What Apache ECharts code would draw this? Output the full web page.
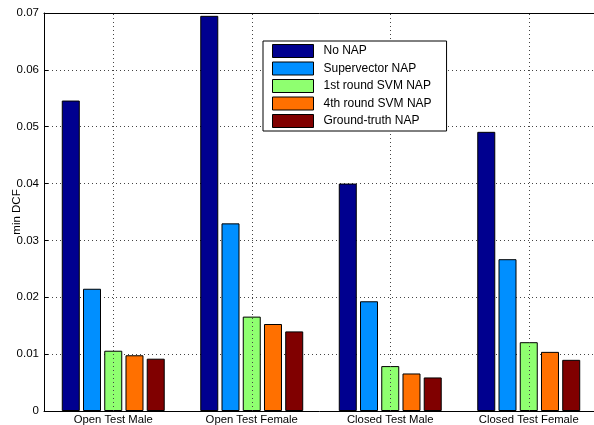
<!DOCTYPE html>
<html>
<head>
<meta charset="utf-8">
<script src="https://cdn.jsdelivr.net/npm/echarts@6/dist/echarts.min.js"></script>
<style>html,body{margin:0;padding:0;background:#fff;}#c{width:594px;height:425px;}</style>
</head>
<body>
<div id="c"></div>
<script>
var categories = ['Open Test Male', 'Open Test Female', 'Closed Test Male', 'Closed Test Female'];
var seriesNames = ['No NAP', 'Supervector NAP', '1st round SVM NAP', '4th round SVM NAP', 'Ground-truth NAP'];
var noNAP = [0.0546, 0.0695, 0.0400, 0.0491];
var supervectorNAP = [0.0215, 0.0330, 0.0193, 0.0267];
var svm1NAP = [0.0106, 0.0166, 0.0079, 0.0121];
var svm4NAP = [0.0098, 0.0153, 0.0066, 0.0104];
var groundTruthNAP = [0.0092, 0.0140, 0.0059, 0.0090];
var yTickLabels = ['0', '0.01', '0.02', '0.03', '0.04', '0.05', '0.06', '0.07'];
var yName = 'min DCF';

var colors = ['#00008F', '#008FFF', '#8FFF70', '#FF7000', '#800000'];
var values = [noNAP, supervectorNAP, svm1NAP, svm4NAP, groundTruthNAP];
var FONT = '"Liberation Sans", Arial, Helvetica, sans-serif';

var series = seriesNames.map(function (n, i) {
  return {
    name: n, type: 'bar', data: values[i], z: 3,
    barWidth: 18, barGap: '18%',
    itemStyle: { color: colors[i], borderColor: '#000', borderWidth: 1 }
  };
});
series.push({
  name: 'grid', type: 'line', data: [], z: 1, silent: true,
  markLine: {
    silent: true, symbol: 'none', label: { show: false },
    lineStyle: { color: '#444', type: [1, 3], width: 1 },
    data: categories.map(function (c) { return { xAxis: c }; })
  }
});

var chart = echarts.init(document.getElementById('c'), null, { renderer: 'canvas' });
chart.setOption({
  animation: false,
  backgroundColor: '#fff',
  grid: { left: 44, top: 13, width: 554, height: 398, containLabel: false, outerBoundsMode: 'none' },
  legend: {
    data: seriesNames, orient: 'vertical', left: 263, top: 41, icon: 'rect', z: 20,
    backgroundColor: '#fff', borderColor: '#000', borderWidth: 1,
    padding: [3, 15, 3, 9], itemWidth: 41, itemHeight: 13, itemGap: 3.5,
    itemStyle: { borderColor: '#000', borderWidth: 1 },
    textStyle: { fontFamily: FONT, fontSize: 12, color: '#000', lineHeight: 13, padding: [0, 0, 0, 5] },
    selectedMode: false
  },
  xAxis: [{
    type: 'category', data: categories, position: 'bottom',
    axisLine: { lineStyle: { color: '#000', width: 1 } },
    axisTick: { inside: true, alignWithLabel: true, length: 4, lineStyle: { color: '#000' } },
    axisLabel: { fontFamily: FONT, fontSize: 11.3, color: '#000', margin: 3 },
    splitLine: { show: false }
  }, {
    type: 'category', data: categories, position: 'top',
    axisLine: { lineStyle: { color: '#000', width: 1 } },
    axisTick: { inside: true, alignWithLabel: true, length: 4, lineStyle: { color: '#000' } },
    axisLabel: { show: false }, splitLine: { show: false }
  }],
  yAxis: {
    type: 'value', min: 0, max: 0.07, interval: 0.01,
    name: yName, nameLocation: 'middle', nameGap: 21, nameRotate: 90, nameMoveOverlap: false,
    nameTextStyle: { fontFamily: FONT, fontSize: 11.5, color: '#000' },
    axisLine: { show: true, lineStyle: { color: '#000', width: 1 } },
    axisTick: { show: true, inside: true, length: 4, lineStyle: { color: '#000' } },
    axisLabel: {
      fontFamily: FONT, fontSize: 11.5, color: '#000', margin: 5,
      formatter: function (v) { return yTickLabels[Math.round(v / 0.01)]; }
    },
    splitLine: { show: true, lineStyle: { color: '#444', type: [1, 3], width: 1 } }
  },
  series: series
});
</script>
</body>
</html>
